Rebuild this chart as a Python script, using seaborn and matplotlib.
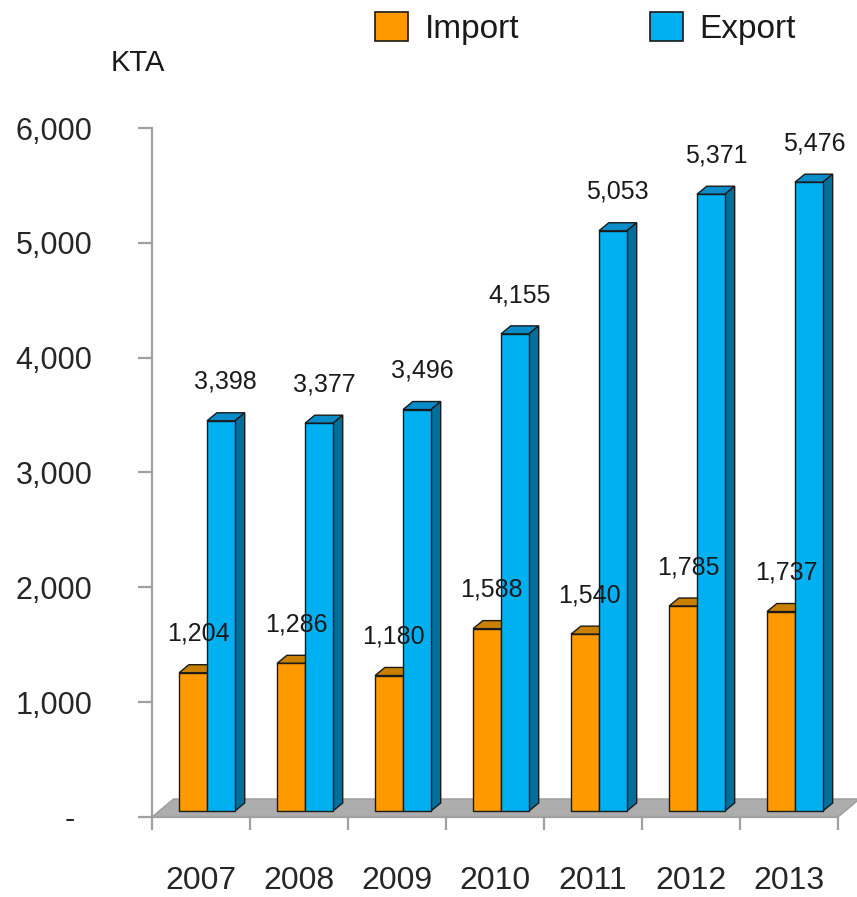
import pandas as pd
import seaborn as sns
import matplotlib.pyplot as plt
from matplotlib.patches import Polygon, Patch
from matplotlib.ticker import FuncFormatter, MultipleLocator

years = ['2007', '2008', '2009', '2010', '2011', '2012', '2013']
imports = [1204, 1286, 1180, 1588, 1540, 1785, 1737]
exports = [3398, 3377, 3496, 4155, 5053, 5371, 5476]

df = pd.DataFrame({
    'year': years * 2,
    'kta': imports + exports,
    'flow': ['Import'] * len(years) + ['Export'] * len(years),
})

front = {'Import': '#ff9900', 'Export': '#00b0f0'}
top = {'Import': '#c98000', 'Export': '#0a8cc8'}
side = {'Import': '#a86a00', 'Export': '#006f9c'}
edge = '#1a1a1a'
axis_grey = '#a0a0a0'

sns.set_style('white')
plt.rcParams['font.family'] = ['Liberation Sans', 'DejaVu Sans']
plt.rcParams['text.color'] = '#1a1a1a'

fig = plt.figure(figsize=(8.57, 8.97), dpi=100)
ax = fig.add_axes([0.1774, 0.0892, 0.8004, 0.7681])

sns.barplot(data=df, x='year', y='kta', hue='flow', hue_order=['Import', 'Export'],
            palette=front, saturation=1, width=0.57, edgecolor=edge, linewidth=1,
            legend=False, zorder=3, ax=ax)

ax.set_xlim(-0.5, 6.5)
ax.set_ylim(0, 6000)

# fake 3d: bars sit a bit back on the floor, with depth going up-right
sx, sy = 0.061, 52     # shift of the front faces
dx, dy = 0.10, 70      # depth of the boxes

for cont, flow in zip(ax.containers, ['Import', 'Export']):
    for p in cont.patches:
        p.set_x(p.get_x() + sx)
        p.set_y(p.get_y() + sy)
        x0, y0 = p.get_x(), p.get_y()
        x1, y1 = x0 + p.get_width(), y0 + p.get_height()
        ax.add_patch(Polygon([(x0, y1), (x1, y1), (x1 + dx, y1 + dy), (x0 + dx, y1 + dy)],
                             closed=True, facecolor=top[flow], edgecolor=edge, lw=1, zorder=2))
        ax.add_patch(Polygon([(x1, y0), (x1 + dx, y0 + dy), (x1 + dx, y1 + dy), (x1, y1)],
                             closed=True, facecolor=side[flow], edgecolor=edge, lw=1, zorder=2))
        ax.annotate(f'{p.get_height():,.0f}', (x0 + p.get_width() / 2 + dx / 2, y1),
                    xytext=(0, 28), textcoords='offset points', ha='center', va='center',
                    fontsize=18, annotation_clip=False)

# grey floor
ax.add_patch(Polygon([(-0.5, 0), (6.5, 0), (6.72, 157), (-0.28, 157)], closed=True,
                     facecolor='#adadad', edgecolor='#9c9c9c', lw=1, zorder=1, clip_on=False))

for s in ['top', 'right']:
    ax.spines[s].set_visible(False)
for s in ['left', 'bottom']:
    ax.spines[s].set_color(axis_grey)
    ax.spines[s].set_linewidth(1.6)

ax.yaxis.set_major_locator(MultipleLocator(1000))
ax.yaxis.set_major_formatter(FuncFormatter(lambda v, p: '-  ' if v == 0 else f'{v:,.0f}'))
ax.tick_params(axis='y', direction='out', length=10, width=1.6, color=axis_grey,
               labelsize=22, pad=33, left=True)
ax.set_xticks(range(len(years)))
ax.set_xticklabels(years)
ax.set_xticks([i - 0.5 for i in range(len(years) + 1)], minor=True)
ax.tick_params(axis='x', which='major', length=0, labelsize=23, pad=35)
ax.tick_params(axis='x', which='minor', direction='out', length=9.5, width=1.6,
               color=axis_grey, bottom=True)
ax.set_xlabel('')
ax.set_ylabel('')

fig.text(138 / 857, 1 - 63 / 897, 'KTA', ha='center', va='center', fontsize=21)

handles = [Patch(facecolor=front[k], edgecolor=edge, lw=1.2) for k in ['Import', 'Export']]
fig.legend(handles, ['Import', 'Export'], loc='upper left', bbox_to_anchor=(375 / 857, 0.987),
           ncol=2, frameon=False, fontsize=24, handlelength=1.0, handleheight=1.0,
           handletextpad=0.5, columnspacing=3.9, borderpad=0, borderaxespad=0)

fig.savefig('out.png', dpi=100)
